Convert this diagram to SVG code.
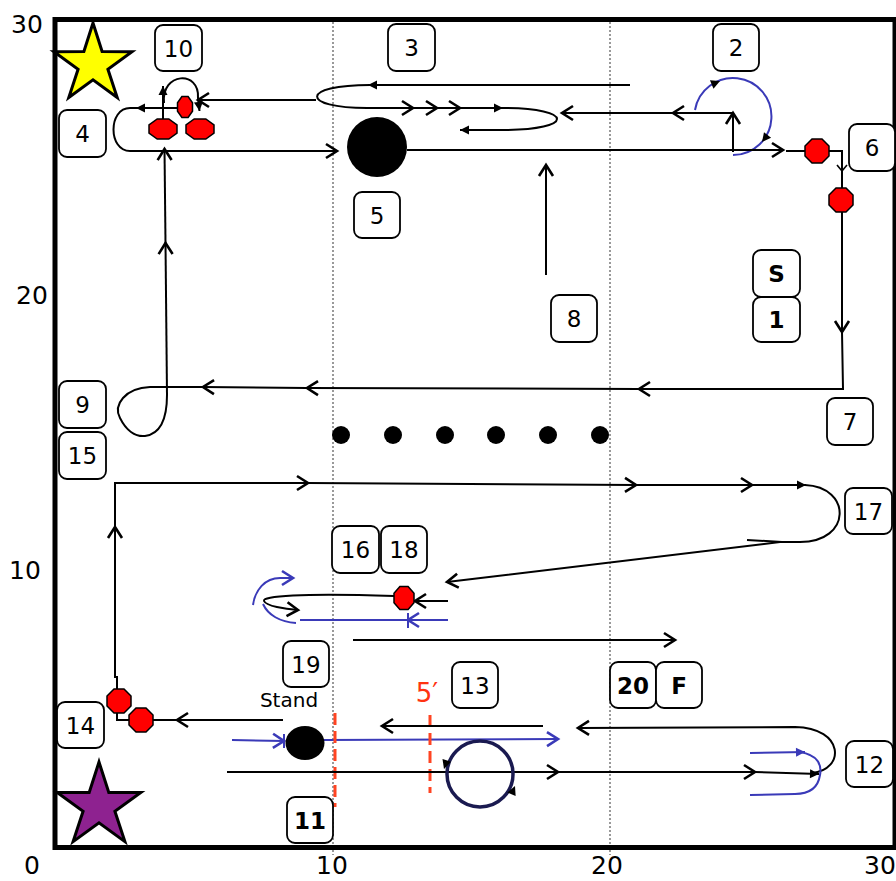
<svg xmlns="http://www.w3.org/2000/svg" xmlns:xlink="http://www.w3.org/1999/xlink" width="896" height="881" viewBox="0 0 896 881">
<style>
.ln{fill:none;stroke:#000;stroke-width:2}
.bl{fill:none;stroke:#3a3ab8;stroke-width:2}
.ch{marker-end:url(#chev)}
.chb{marker-end:url(#chevb)}
.tr{marker-end:url(#tri)}
.trb{marker-end:url(#trib)}
.oct{fill:#ff0000;stroke:#000;stroke-width:1.5}
.box{fill:#fff;stroke:#000;stroke-width:1.8}
.lbl{font-family:"DejaVu Sans",Verdana,sans-serif;font-size:23px;text-anchor:middle;fill:#000}
.b{font-weight:bold}
.ax{font-family:"DejaVu Sans",Verdana,sans-serif;font-size:25px;text-anchor:middle;fill:#000}
.grid{stroke:#999;stroke-width:2;stroke-dasharray:2,2;fill:none}
.red{stroke:#ff4422;stroke-width:3;stroke-dasharray:12,6;fill:none}
</style>
<defs>
<marker id="chev" markerUnits="userSpaceOnUse" orient="auto" markerWidth="20" markerHeight="20" refX="0" refY="0" viewBox="-14 -10 16 20" overflow="visible"><path d="M-11,-7 L0,0 L-11,7" fill="none" stroke="#000" stroke-width="2.6"/></marker>
<marker id="chevs" markerUnits="userSpaceOnUse" orient="auto" markerWidth="12" markerHeight="12" refX="0" refY="0" viewBox="-8 -6 10 12" overflow="visible"><path d="M-6,-5 L0,0 L-6,5" fill="none" stroke="#000" stroke-width="1.6"/></marker>
<marker id="chevb" markerUnits="userSpaceOnUse" orient="auto" markerWidth="20" markerHeight="20" refX="0" refY="0" viewBox="-14 -10 16 20" overflow="visible"><path d="M-11,-7 L0,0 L-11,7" fill="none" stroke="#3a3ab8" stroke-width="2.6"/></marker>
<marker id="tri" markerUnits="userSpaceOnUse" orient="auto" markerWidth="12" markerHeight="10" refX="0" refY="0" viewBox="-10 -5 11 10" overflow="visible"><path d="M-9,-4.5 L0,0 L-9,4.5Z" fill="#000"/></marker>
<marker id="trib" markerUnits="userSpaceOnUse" orient="auto" markerWidth="12" markerHeight="10" refX="0" refY="0" viewBox="-10 -5 11 10" overflow="visible"><path d="M-9,-4.5 L0,0 L-9,4.5Z" fill="#3a3ab8"/></marker>
<path id="tri0" d="M-9,-4.5 L0,0 L-9,4.5Z" fill="#000"/>
</defs>
<rect width="896" height="881" fill="#fff"/>

<g id="frame">
<line class="grid" x1="333" y1="22" x2="333" y2="855"/>
<line class="grid" x1="610" y1="22" x2="610" y2="855"/>
<rect x="55" y="19.5" width="840" height="828" fill="none" stroke="#000" stroke-width="5"/>
<text class="ax" x="27" y="33">30</text>
<text class="ax" x="32" y="304">20</text>
<text class="ax" x="25" y="579">10</text>
<text class="ax" x="32" y="874">0</text>
<text class="ax" x="332" y="874">10</text>
<text class="ax" x="607" y="874">20</text>
<text class="ax" x="880" y="874">30</text>
</g>

<g id="stars">
<polygon points="93,23 102.1,51.5 132,51.7 107.9,69.3 117.2,97.5 93,79.9 68.8,97.5 78.1,69.3 54,51.7 83.9,51.5" fill="#ffff00" stroke="#000" stroke-width="3"/>
<polygon points="99,762 108.8,792.4 140.8,792.4 114.9,811.2 124.9,841.6 99,822.8 73.1,841.6 83.1,811.2 57.2,792.4 89.2,792.4" fill="#8e2290" stroke="#000" stroke-width="3"/>
</g>

<g id="connectors">
<path class="ln tr" d="M177,108 L136,108"/>
<path class="ln ch" d="M137,108 L130,108 C108,108 108,151 130,151 L337,151"/>
<path class="ln ch" d="M167,395 L165.5,243"/>
<path class="ln ch" d="M165.5,243 L164.5,149"/>
<path class="ln tr" d="M163,119 L163,86"/>
<path class="ln tr" d="M164,103 C161,72 200,70 198,98 L199.5,111"/>
<path class="ln ch" d="M316,100 L198,100"/>
<path class="ln tr" d="M630,85 L368,85"/>
<path class="ln" d="M370,85 C300,85 300,108 367,108"/>
<path class="ln ch" d="M367,108 L413,108"/>
<path class="ln ch" d="M413,108 L437,108"/>
<path class="ln ch" d="M437,108 L460,108"/>
<path class="ln tr" d="M460,108 L503,108"/>
<path class="ln tr" d="M503,108 C575,108 575,130 503,130 L460,130"/>
<path class="ln ch" d="M733,113 L673,113"/>
<path class="ln ch" d="M673,113 L562,113"/>
<path class="ln ch" d="M733,152 L733,113"/>
<path class="bl" d="M695,110 A38.5,38.5 0 1,1 733,155"/>
<use xlink:href="#tri0" transform="translate(720,81) rotate(-23)"/>
<use xlink:href="#tri0" transform="translate(762,142) rotate(128)"/>
<path class="ln ch" d="M407,150 L783,150"/>
<path class="ln" d="M786,151 L805,151"/>
<path class="ln" d="M829,151 L842,151 L842,171" marker-end="url(#chevs)"/>
<path class="ln" d="M842,171 L842,188"/>
<path class="ln ch" d="M842,212 L842,332"/>
<path class="ln ch" d="M842,332 L843,389 L639,389"/>
<path class="ln ch" d="M639,389 L307,388"/>
<path class="ln ch" d="M307,388 L203,387"/>
<path class="ln" d="M203,387 L150,387 C125,388 113,405 120,418 C126,430 135,437 145,436 C160,434 167,420 167,395"/>
<path class="ln ch" d="M546,275 L546,165"/>
<path class="ln ch" d="M117,689 L117,677 L115,677 L115,527"/>
<path class="ln ch" d="M115,527 L115,483 L308,483"/>
<path class="ln ch" d="M308,483 L636,485"/>
<path class="ln ch" d="M636,485 L752,485"/>
<path class="ln tr" d="M752,485 L806,485"/>
<path class="ln ch" d="M805,485 C852,487 852,542 800,542 L780,542 L447,582"/>
<path class="ln" d="M747,540 L782,542"/>
<path class="ln ch" d="M448,601 L415,601"/>
<path class="ln ch" d="M394,596 C300,593 262,596 264,601 C266,606 285,609 298,610"/>
<path class="bl chb" d="M253,605 C255,590 265,578 280,578 L293,578"/>
<path class="bl" d="M263,604 C268,615 280,622 296,623"/>
<path class="bl chb" d="M448,620 L408,620"/>
<path class="bl" d="M408,613 L408,628 M408,620 L300,620"/>
<path class="ln ch" d="M353,640 L675,640"/>
<path class="ln ch" d="M283,720 L177,720"/>
<path class="ln" d="M177,720 L153,720 M117,713 L117,720 L129,720"/>
<path class="bl chb" d="M232,740 L284,741"/>
<path class="bl" d="M284,734 L284,748"/>
<path class="bl chb" d="M324,740 L558,739"/>
<path class="red" d="M335,713 L335,807"/>
<path class="red" d="M430,715 L430,793"/>
<path class="ln ch" d="M543,726 L382,726"/>
<path class="ln ch" d="M227,772 L558,772"/>
<path class="ln ch" d="M558,772 L755,772"/>
<path class="ln tr" d="M755,772 L819,774"/>
<path class="ln ch" d="M812,773 C845,770 845,728 795,727 L578,728"/>
<path class="bl trb" d="M750,753 L805,752"/>
<path class="bl" d="M800,752 C818,755 822,765 820,775 C818,788 810,794 795,794 L750,795"/>
<circle cx="480" cy="774" r="33" fill="none" stroke="#1a1a50" stroke-width="3.5"/>
<use xlink:href="#tri0" transform="translate(444,769) rotate(108)"/>
<use xlink:href="#tri0" transform="translate(515,786) rotate(-67)"/>
</g>

<g id="obstacles">
<circle cx="377" cy="147" r="30" fill="#000"/>
<ellipse cx="305" cy="743" rx="19.5" ry="17" fill="#000"/>
<circle cx="341" cy="435" r="9" fill="#000"/>
<circle cx="393" cy="435" r="9" fill="#000"/>
<circle cx="445" cy="435" r="9" fill="#000"/>
<circle cx="496" cy="435" r="9" fill="#000"/>
<circle cx="548" cy="435" r="9" fill="#000"/>
<circle cx="600" cy="435" r="9" fill="#000"/>
</g>

<g id="cones">
<polygon class="oct" points="157.2,119 168.8,119 177,124.9 177,133.1 168.8,139 157.2,139 149,133.1 149,124.9"/>
<polygon class="oct" points="194.2,119 205.8,119 214,124.9 214,133.1 205.8,139 194.2,139 186,133.1 186,124.9"/>
<polygon class="oct" points="181.9,96.5 188.1,96.5 192.5,102.7 192.5,111.3 188.1,117.5 181.9,117.5 177.5,111.3 177.5,102.7"/>
<polygon class="oct" points="812,139 822,139 829,146 829,156 822,163 812,163 805,156 805,146"/>
<polygon class="oct" points="836,188 846,188 853,195 853,205 846,212 836,212 829,205 829,195"/>
<polygon class="oct" points="399.9,586.5 408.1,586.5 414,593.2 414,602.8 408.1,609.5 399.9,609.5 394,602.8 394,593.2"/>
<polygon class="oct" points="114,689 124,689 131,696 131,706 124,713 114,713 107,706 107,696"/>
<polygon class="oct" points="136,708 146,708 153,715 153,725 146,732 136,732 129,725 129,715"/>
</g>

<g id="n10"><rect class="box" x="155" y="25" width="47" height="46" rx="8"/><text class="lbl" x="178.5" y="56.5">10</text></g>
<g id="n4"><rect class="box" x="59" y="110" width="47" height="47" rx="8"/><text class="lbl" x="82.5" y="141.5">4</text></g>
<g id="n3"><rect class="box" x="388" y="24" width="47" height="47" rx="8"/><text class="lbl" x="411.5" y="55.5">3</text></g>
<g id="n2"><rect class="box" x="713" y="24" width="46" height="47" rx="8"/><text class="lbl" x="736" y="55.5">2</text></g>
<g id="n6"><rect class="box" x="849" y="124" width="46" height="47" rx="8"/><text class="lbl" x="872" y="155.5">6</text></g>
<g id="n5"><rect class="box" x="354" y="192" width="46" height="46" rx="8"/><text class="lbl" x="377" y="223.5">5</text></g>
<g id="n8"><rect class="box" x="551" y="295" width="46" height="47" rx="8"/><text class="lbl" x="574" y="326.5">8</text></g>
<g id="nS"><rect class="box" x="753" y="250" width="47" height="47" rx="8"/><text class="lbl b" x="776.5" y="281.5">S</text></g>
<g id="n1"><rect class="box" x="753" y="297" width="47" height="45" rx="8"/><text class="lbl b" x="776.5" y="327.5">1</text></g>
<g id="n7"><rect class="box" x="827" y="398" width="46" height="47" rx="8"/><text class="lbl" x="850" y="429.5">7</text></g>
<g id="n9"><rect class="box" x="59" y="381" width="47" height="47" rx="8"/><text class="lbl" x="82.5" y="412.5">9</text></g>
<g id="n15"><rect class="box" x="59" y="432" width="47" height="47" rx="8"/><text class="lbl" x="82.5" y="463.5">15</text></g>
<g id="n17"><rect class="box" x="845" y="488" width="47" height="46" rx="8"/><text class="lbl" x="868.5" y="519.5">17</text></g>
<g id="n16"><rect class="box" x="332" y="526" width="47" height="47" rx="8"/><text class="lbl" x="355.5" y="557.5">16</text></g>
<g id="n18"><rect class="box" x="381" y="526" width="46" height="47" rx="8"/><text class="lbl" x="404" y="557.5">18</text></g>
<g id="n19"><rect class="box" x="283" y="641" width="46" height="46" rx="8"/><text class="lbl" x="306" y="672.5">19</text></g>
<g id="n14"><rect class="box" x="57" y="702" width="47" height="46" rx="8"/><text class="lbl" x="80.5" y="733.5">14</text></g>
<g id="n11"><rect class="box" x="287" y="797" width="46" height="46" rx="8"/><text class="lbl b" x="310" y="828.5">11</text></g>
<g id="n13"><rect class="box" x="452" y="662" width="46" height="46" rx="8"/><text class="lbl" x="475" y="693.5">13</text></g>
<g id="n20"><rect class="box" x="610" y="662" width="46" height="46" rx="8"/><text class="lbl b" x="633" y="693.5">20</text></g>
<g id="nF"><rect class="box" x="656" y="662" width="46" height="46" rx="8"/><text class="lbl b" x="679" y="693.5">F</text></g>
<g id="n12"><rect class="box" x="846" y="741" width="47" height="46" rx="8"/><text class="lbl" x="869.5" y="772.5">12</text></g>

<g id="annotations">
<text x="289" y="707" font-family="DejaVu Sans,Verdana,sans-serif" font-size="20" text-anchor="middle" fill="#000">Stand</text>
<text x="427" y="702" font-family="DejaVu Sans,Verdana,sans-serif" font-size="26" text-anchor="middle" fill="#ff3311">5′</text>
</g>
</svg>
